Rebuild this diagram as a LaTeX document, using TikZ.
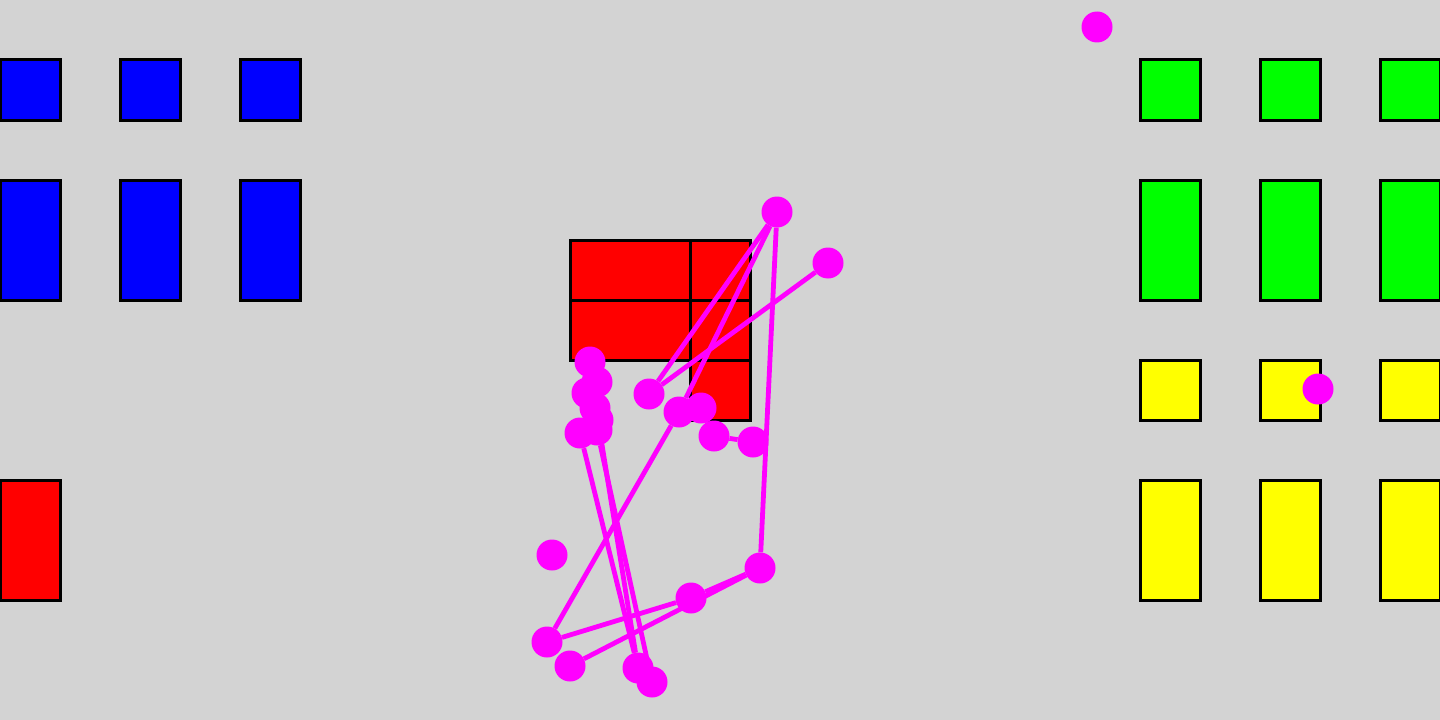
\documentclass[tikz,border=0pt]{standalone}
\usepackage[dvipsnames,svgnames]{xcolor}
\usepackage{tikz}
\usetikzlibrary{positioning}

\definecolor{floor}{RGB}{211,211,211}
\definecolor{pin}{RGB}{255,0,255}
\definecolor{boxred}{RGB}{255,0,0}
\definecolor{boxblue}{RGB}{0,0,255}
\definecolor{boxgreen}{RGB}{0,255,0}
\definecolor{boxyellow}{RGB}{255,255,0}

\begin{document}
\begin{tikzpicture}[x=0.5mm, y=-0.5mm,
    cell/.style={draw=black, line width=1.5mm},
    dot/.style={circle, fill=pin, inner sep=0pt, minimum size=15.5mm},
    link/.style={draw=pin, line width=2.4mm}]
  % background
  \fill[floor] (0,0) rectangle (1440,720);
  \useasboundingbox (0,0) rectangle (1440,720);

  % blocks left
  \foreach \x in {0,120,240} {
    \draw[cell, fill=boxblue] (\x,60) rectangle ++(60,60);
    \draw[cell, fill=boxblue] (\x,180) rectangle ++(60,120);
  }
  \draw[cell, fill=boxred] (0,480) rectangle ++(60,120);

  % blocks right
  \foreach \x in {1140,1260,1380} {
    \draw[cell, fill=boxgreen] (\x,60) rectangle ++(60,60);
    \draw[cell, fill=boxgreen] (\x,180) rectangle ++(60,120);
    \draw[cell, fill=boxyellow] (\x,360) rectangle ++(60,60);
    \draw[cell, fill=boxyellow] (\x,480) rectangle ++(60,120);
  }

  % middle block
  \draw[cell, fill=boxred] (570,240) rectangle (690,300);
  \draw[cell, fill=boxred] (690,240) rectangle (750,300);
  \draw[cell, fill=boxred] (570,300) rectangle (690,360);
  \draw[cell, fill=boxred] (690,300) rectangle (750,360);
  \draw[cell, fill=boxred] (690,360) rectangle (750,420);

  % points
  \node[dot] (p1) at (1097,27) {};
  \node[dot] (p2) at (777,212) {};
  \node[dot] (p3) at (828,263) {};
  \node[dot] (p4) at (649,394) {};
  \node[dot] (p5) at (590,362) {};
  \node[dot] (p6) at (597,382) {};
  \node[dot] (p7) at (587,393) {};
  \node[dot] (p8) at (595,408) {};
  \node[dot] (p9) at (598,420) {};
  \node[dot] (p10) at (580,433) {};
  \node[dot] (p11) at (597,430) {};
  \node[dot] (p12) at (679,412) {};
  \node[dot] (p13) at (701,408) {};
  \node[dot] (p14) at (714,436) {};
  \node[dot] (p15) at (753,442) {};
  \node[dot] (p16) at (760,568) {};
  \node[dot] (p17) at (691,598) {};
  \node[dot] (p18) at (552,555) {};
  \node[dot] (p19) at (547,642) {};
  \node[dot] (p20) at (570,666) {};
  \node[dot] (p21) at (638,668) {};
  \node[dot] (p22) at (652,682) {};
  \node[dot] (p23) at (1318,389) {};

  % links
  \path[link]
    (p2) edge (p4)
    (p2) edge (p12)
    (p12) edge (p19)
    (p3) edge (p4)
    (p2) edge (p16)
    (p16) edge (p17)
    (p16) edge (p20)
    (p17) edge (p19)
    (p13) edge (p14)
    (p14) edge (p15)
    (p10) edge (p21)
    (p9) edge (p21)
    (p11) edge (p22);
\end{tikzpicture}
\end{document}
